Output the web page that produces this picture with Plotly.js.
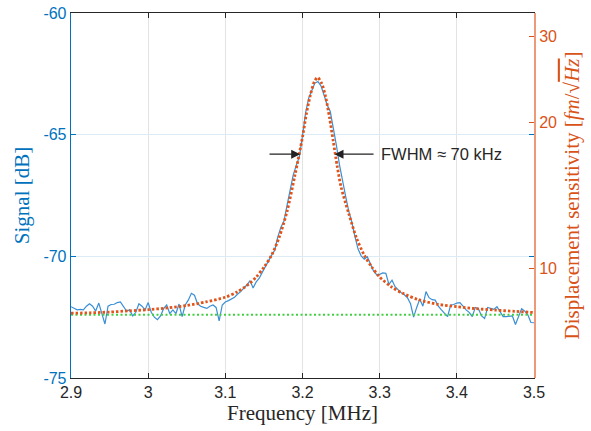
<!DOCTYPE html>
<html><head><meta charset="utf-8">
<script src="https://cdn.plot.ly/plotly-3.0.1.min.js"></script>
<style>html,body{margin:0;padding:0;background:#fff;}#chart{width:591px;height:431px;}</style>
</head><body><div id="chart"></div>
<script>
// ---- data ----
const freqMHz = [2.900,2.904,2.908,2.912,2.916,2.920,2.924,2.928,2.932,2.936,2.940,2.944,2.948,2.952,2.956,2.960,2.964,2.968,2.972,2.976,2.980,2.984,2.988,2.992,2.996,3.000,3.004,3.008,3.012,3.016,3.020,3.024,3.028,3.032,3.036,3.040,3.044,3.048,3.052,3.056,3.060,3.064,3.068,3.072,3.076,3.080,3.084,3.088,3.092,3.096,3.100,3.104,3.108,3.112,3.116,3.120,3.124,3.128,3.132,3.136,3.140,3.144,3.148,3.152,3.156,3.160,3.164,3.168,3.172,3.176,3.180,3.184,3.188,3.192,3.196,3.200,3.204,3.208,3.212,3.216,3.220,3.224,3.228,3.232,3.236,3.240,3.244,3.248,3.252,3.256,3.260,3.264,3.268,3.272,3.276,3.280,3.284,3.288,3.292,3.296,3.300,3.304,3.308,3.312,3.316,3.320,3.324,3.328,3.332,3.336,3.340,3.344,3.348,3.352,3.356,3.360,3.364,3.368,3.372,3.376,3.380,3.384,3.388,3.392,3.396,3.400,3.404,3.408,3.412,3.416,3.420,3.424,3.428,3.432,3.436,3.440,3.444,3.448,3.452,3.456,3.460,3.464,3.468,3.472,3.476,3.480,3.484,3.488,3.492,3.496,3.500];
const signalDb = [-72.07,-72.15,-72.20,-72.18,-72.20,-72.05,-71.95,-72.05,-72.25,-71.92,-72.35,-72.78,-72.05,-71.98,-71.97,-71.90,-71.87,-72.05,-72.25,-72.20,-72.45,-72.30,-71.95,-72.05,-72.20,-71.90,-72.30,-72.50,-72.60,-72.45,-72.15,-72.00,-72.35,-72.20,-72.35,-71.96,-72.48,-72.00,-71.80,-71.52,-71.60,-71.95,-72.05,-72.10,-72.14,-72.05,-72.00,-72.10,-72.65,-72.00,-71.88,-71.82,-71.75,-71.68,-71.55,-71.45,-71.30,-71.18,-71.00,-71.30,-71.05,-70.90,-70.65,-70.40,-70.15,-69.95,-69.75,-69.20,-68.80,-68.55,-67.90,-67.25,-66.65,-66.25,-65.90,-65.05,-64.10,-63.50,-63.15,-62.88,-62.82,-63.00,-63.38,-63.78,-64.05,-64.70,-65.45,-66.25,-66.95,-67.55,-68.15,-68.60,-69.19,-69.70,-69.98,-70.12,-70.02,-70.35,-70.60,-70.75,-70.74,-70.68,-70.70,-71.15,-70.98,-71.25,-71.38,-71.50,-71.58,-71.70,-71.95,-72.50,-72.10,-71.75,-72.05,-71.45,-71.70,-71.78,-71.80,-72.05,-72.20,-72.35,-72.48,-72.00,-71.98,-71.92,-71.90,-72.05,-72.20,-72.30,-72.48,-72.10,-72.15,-72.45,-72.55,-72.10,-72.15,-72.18,-72.07,-72.30,-72.48,-72.48,-72.48,-72.45,-72.80,-72.50,-72.15,-72.25,-72.40,-72.72,-72.73];

const fitFreqMHz = [2.900,2.925,2.950,2.975,3.000,3.025,3.050,3.075,3.100,3.115,3.130,3.140,3.150,3.160,3.170,3.180,3.190,3.200,3.205,3.210,3.215,3.2195,3.225,3.230,3.235,3.240,3.245,3.250,3.260,3.270,3.280,3.290,3.300,3.315,3.330,3.350,3.375,3.400,3.425,3.450,3.475,3.500];
const fitDb = [-72.34,-72.32,-72.29,-72.24,-72.19,-72.12,-72.02,-71.87,-71.68,-71.47,-71.15,-70.85,-70.45,-69.95,-69.20,-68.15,-66.70,-65.10,-64.15,-63.40,-62.85,-62.65,-62.90,-63.45,-64.30,-65.30,-66.30,-67.15,-68.25,-69.25,-69.95,-70.45,-70.85,-71.25,-71.52,-71.78,-71.97,-72.07,-72.15,-72.21,-72.26,-72.31];

const noiseFreqMHz = [2.9, 3.5];
const noiseFloorDb = [-72.4, -72.4];

const fwhmLeftMHz = 3.197, fwhmRightMHz = 3.2415, halfMaxDb = -65.8;
const fwhmLabel = 'FWHM \u2248 70 kHz';

const xTickVals = [2.9,3.0,3.1,3.2,3.3,3.4,3.5];
const xTickText = ['2.9','3','3.1','3.2','3.3','3.4','3.5'];
const yTickVals = [-75,-70,-65,-60];
const yTickText = ['-75','-70','-65','-60'];
const y2TickVals = [10,20,30];
const y2TickText = ['10','20','30'];
const dbRange = [-75, -60];
const dispRange = [5.957, 33.50]; // fm/sqrt(Hz) matching the dB range

// ---- styling ----
const BLUE = '#0072BD', ORANGE = '#D95319', GREEN = '#3fcf3f', DARK = '#262626';
const SANS = 'Liberation Sans, Arial, Helvetica, sans-serif';
const SERIF = 'Liberation Serif, Times New Roman, serif';

const traces = [
  {x: freqMHz, y: signalDb, type: 'scatter', mode: 'lines', line: {color: '#3b8fd4', width: 1.2}, hoverinfo: 'skip', showlegend: false},
  {x: noiseFreqMHz, y: noiseFloorDb, type: 'scatter', mode: 'lines', line: {color: GREEN, width: 2.2, dash: '2px,2.5px'}, hoverinfo: 'skip', showlegend: false},
  {x: fitFreqMHz, y: fitDb, type: 'scatter', mode: 'lines', line: {color: '#e2531a', width: 2.8, dash: '2.5px,2px', shape: 'spline', smoothing: 0.8}, hoverinfo: 'skip', showlegend: false},
  {x: [noiseFreqMHz[0]], y: [dispRange[0]], yaxis: 'y2', type: 'scatter', mode: 'markers', marker: {opacity: 0}, hoverinfo: 'skip', showlegend: false}
];

const layout = {
  width: 591, height: 431,
  margin: {l: 71, r: 57, t: 13, b: 53},
  paper_bgcolor: '#fff', plot_bgcolor: '#fff',
  showlegend: false,
  xaxis: {
    range: [2.9, 3.5], tickvals: xTickVals, ticktext: xTickText,
    ticks: 'inside', ticklen: 5, tickcolor: DARK, tickwidth: 1,
    showline: true, linecolor: DARK, linewidth: 1, mirror: 'ticks',
    showgrid: true, gridcolor: '#e3e3e3', gridwidth: 1, zeroline: false,
    tickfont: {family: SANS, size: 16, color: DARK},
    title: {text: 'Frequency [MHz]', font: {family: SERIF, size: 21, color: DARK}, standoff: 3}
  },
  yaxis: {
    range: dbRange, tickvals: yTickVals, ticktext: yTickText,
    ticks: 'inside', ticklen: 5, tickcolor: BLUE, tickwidth: 1,
    showline: true, linecolor: BLUE, linewidth: 1.3, mirror: 'ticks',
    showgrid: true, gridcolor: '#dcebf6', gridwidth: 1, zeroline: false,
    tickfont: {family: SANS, size: 16, color: BLUE},
    title: {text: 'Signal [dB]', font: {family: SERIF, size: 21, color: BLUE}, standoff: 8}
  },
  yaxis2: {
    overlaying: 'y', side: 'right', type: 'log',
    range: [Math.log10(dispRange[0]), Math.log10(dispRange[1])],
    tickvals: y2TickVals, ticktext: y2TickText,
    ticks: 'inside', ticklen: 5, tickcolor: ORANGE, tickwidth: 1,
    showline: true, linecolor: '#ee9a78', linewidth: 2, showgrid: false, zeroline: false,
    tickfont: {family: SANS, size: 16, color: ORANGE},
    title: {text: 'Displacement sensitivity [<i>fm</i>/\u221A<span style="text-decoration:overline"><i>Hz</i></span>]', font: {family: SERIF, size: 21, color: ORANGE}, standoff: 8}
  },
  annotations: [
    {x: fwhmLeftMHz, y: halfMaxDb, xref: 'x', yref: 'y', ax: 3.1553, ay: halfMaxDb, axref: 'x', ayref: 'y', showarrow: true, arrowhead: 2, arrowsize: 1.5, arrowwidth: 1.2, arrowcolor: '#222', text: ''},
    {x: fwhmRightMHz, y: halfMaxDb, xref: 'x', yref: 'y', ax: 3.294, ay: halfMaxDb, axref: 'x', ayref: 'y', showarrow: true, arrowhead: 2, arrowsize: 1.5, arrowwidth: 1.2, arrowcolor: '#222', text: ''},
    {x: 3.2995, y: halfMaxDb, xref: 'x', yref: 'y', xanchor: 'left', yanchor: 'middle', showarrow: false, text: fwhmLabel, font: {family: SANS, size: 16.5, color: DARK}}
  ]
};

Plotly.newPlot('chart', traces, layout, {staticPlot: true, displayModeBar: false});
</script>
</body></html>
